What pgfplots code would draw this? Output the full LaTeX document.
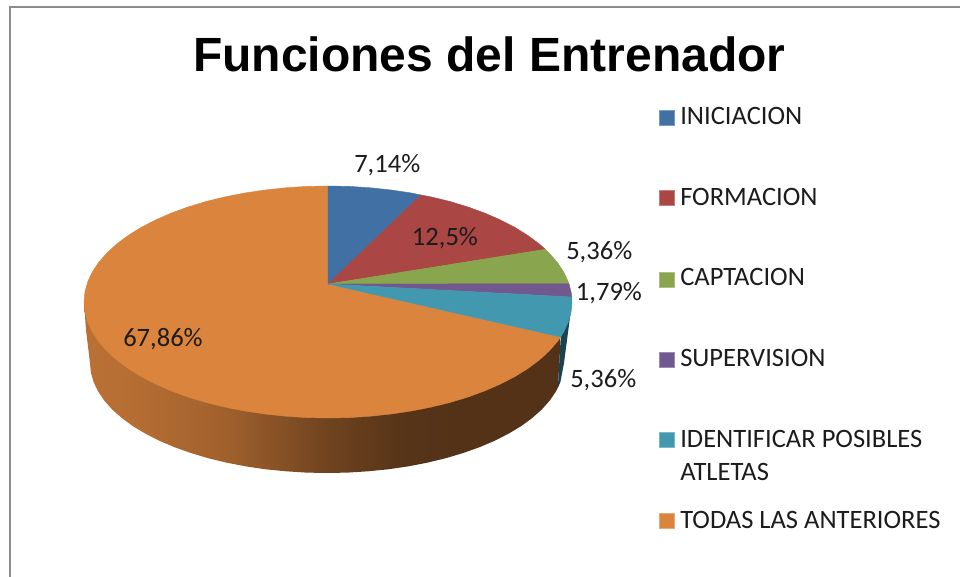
\documentclass[border=0pt]{standalone}
\usepackage{fontspec}
\setmainfont{Carlito}
\newfontfamily\titlefont{Liberation Sans}
\usepackage{pgfplots}
\pgfplotsset{compat=1.18}
\definecolor{cblue}{HTML}{4170A5}
\definecolor{cred}{HTML}{AA4643}
\definecolor{cgreen}{HTML}{89A54E}
\definecolor{cpurple}{HTML}{71588F}
\definecolor{cteal}{HTML}{4198AF}
\definecolor{corange}{HTML}{DB843D}
\definecolor{cdarkteal}{HTML}{1A4350}
\definecolor{frameg}{HTML}{8C8C8C}
\definecolor{txt}{HTML}{1C1C1C}
\pgfdeclarehorizontalshading{sidegrad}{100bp}{
 color(0bp)=(corange!85!black);
 color(25bp)=(corange!85!black);
 color(29bp)=(corange!84!black);
 color(40bp)=(corange!73!black);
 color(50.5bp)=(corange!51!black);
 color(58bp)=(corange!40!black);
 color(64bp)=(corange!38!black);
 color(100bp)=(corange!38!black)}
\newcommand{\lab}[3]{\node[anchor=base west,inner sep=0pt,text=txt,font=\fontsize{19.9pt}{22pt}\selectfont] at (axis cs:#1,#2) {#3};}
\begin{document}
\begin{tikzpicture}
\begin{axis}[
  scale only axis, width=720pt, height=432.75pt,
  xmin=0, xmax=960, ymin=0, ymax=577, y dir=reverse,
  hide axis, clip=true,
]
% page background, so that the picture has the full extent
\addplot[draw=none, fill=white, forget plot] coordinates {(0,0)(960,0)(960,577)(0,577)(0,0)};
% frame
\addplot[frameg, line width=2.2pt, forget plot] coordinates {(10,577)(10,7)(960,7)};
% side of the orange slice
\addplot[draw=none, shade, shading=sidegrad, forget plot] coordinates {
(84,302)(86,330)(90,363)(90.9,372.6)(93.6,382.1)(98.1,391.5)(104.3,400.6)(112.2,409.5)(121.8,418)(132.8,426.1)(145.5,433.7)(159.4,440.8)(174.7,447.3)(191.1,453.1)(208.5,458.3)(226.8,462.7)(245.9,466.4)(265.7,469.3)(285.9,471.3)(306.3,472.6)(327,473)(347.7,472.6)(368.1,471.3)(388.3,469.3)(408.1,466.4)(427.2,462.7)(445.5,458.3)(462.9,453.1)(479.3,447.3)(494.6,440.8)(508.5,433.7)(521.2,426.1)(532.2,418)(541.8,409.5)(549.7,400.6)(555.9,391.5)(557.9,387.7)(560.7,337)(84,302)};
% side of the teal slice
\addplot[draw=none, fill=cdarkteal, forget plot] coordinates {
(572,302)(564,363)(560.4,382.1)(557.9,387.7)(560.7,337)(572,302)};
% top: orange 67,86
\addplot[fill=corange, draw=corange, line width=0.3pt, forget plot] coordinates {
(328,284)(560.7,337)(557.3,341.7)(549.1,351)(539.3,360)(527.9,368.5)(514.9,376.6)(500.5,384)(484.8,390.9)(468,397)(450,402.5)(431.1,407.1)(411.4,411)(391.1,414)(370.4,416.2)(349.3,417.6)(328,418)(306.7,417.6)(285.6,416.2)(264.9,414)(244.6,411)(224.9,407.1)(206,402.5)(188,397)(171.2,390.9)(155.5,384)(141.1,376.6)(128.1,368.5)(116.7,360)(106.9,351)(98.7,341.7)(92.3,332)(87.7,322.1)(84.9,312.1)(84,302)(84.9,291.9)(87.7,281.9)(92.3,272)(98.7,262.3)(106.9,253)(116.7,244)(128.1,235.5)(141.1,227.4)(155.5,220)(171.2,213.1)(188,207)(206,201.5)(224.9,196.9)(244.6,193)(264.9,190)(285.6,187.8)(306.7,186.4)(328,186)(328,284)};
% blue 7,14
\addplot[fill=cblue, draw=cblue, line width=0.3pt, forget plot] coordinates {
(328,284)(328,186)(349.3,186.4)(370.4,187.8)(391.1,190)(411.4,193)(421,195)(328,284)};
% red 12,5
\addplot[fill=cred, draw=cred, line width=0.3pt, forget plot] coordinates {
(328,284)(421,195)(431.1,196.9)(450,201.5)(468,207)(484.8,213.1)(500.5,220)(514.9,227.4)(527.9,235.5)(539.3,244)(545.4,249.3)(328,284)};
% green 5,36
\addplot[fill=cgreen, draw=cgreen, line width=0.3pt, forget plot] coordinates {
(328,284)(545.4,249.3)(549.1,253)(557.3,262.3)(563.7,272)(568.3,281.9)(569,283.9)(328,284)};
% purple 1,79
\addplot[fill=cpurple, draw=cpurple, line width=0.3pt, forget plot] coordinates {
(328,284)(569,283.9)(571.1,291.9)(571.8,297)(328,284)};
% teal 5,36
\addplot[fill=cteal, draw=cteal, line width=0.3pt, forget plot] coordinates {
(328,284)(571.8,297)(572,302)(571.1,312.1)(568.3,322.1)(563.7,332)(560.7,337)(328,284)};
% legend keys
\addplot[only marks, mark=square*, mark size=5.6pt, mark options={fill=cblue, draw=cblue!70!white, line width=0.5pt}, forget plot] coordinates {(667,118)};
\addplot[only marks, mark=square*, mark size=5.6pt, mark options={fill=cred, draw=cred!70!white, line width=0.5pt}, forget plot] coordinates {(667,198)};
\addplot[only marks, mark=square*, mark size=5.6pt, mark options={fill=cgreen, draw=cgreen!70!white, line width=0.5pt}, forget plot] coordinates {(667,279.5)};
\addplot[only marks, mark=square*, mark size=5.6pt, mark options={fill=cpurple, draw=cpurple!70!white, line width=0.5pt}, forget plot] coordinates {(667,359.5)};
\addplot[only marks, mark=square*, mark size=5.6pt, mark options={fill=cteal, draw=cteal!70!white, line width=0.5pt}, forget plot] coordinates {(667,440)};
\addplot[only marks, mark=square*, mark size=5.6pt, mark options={fill=corange, draw=corange!70!white, line width=0.5pt}, forget plot] coordinates {(667,520.5)};
% title
\node[anchor=base west, inner sep=0pt, text=black, font=\fontsize{36pt}{40pt}\titlefont\bfseries] at (axis cs:193,72) {Funciones del Entrenador};
% legend text
\lab{680}{125}{INICIACION}
\lab{680}{205.7}{FORMACION}
\lab{680}{286}{CAPTACION}
\lab{680}{366.7}{SUPERVISION}
\lab{680}{447.7}{IDENTIFICAR POSIBLES}
\lab{680}{480}{ATLETAS}
\lab{680}{528}{TODAS LAS ANTERIORES}
% data labels
\lab{354}{172.7}{7,14\%}
\lab{411.7}{246}{12,5\%}
\lab{566}{259.5}{5,36\%}
\lab{575.7}{300.7}{1,79\%}
\lab{570}{387}{5,36\%}
\lab{123}{346.7}{67,86\%}
\end{axis}
\end{tikzpicture}
\end{document}
